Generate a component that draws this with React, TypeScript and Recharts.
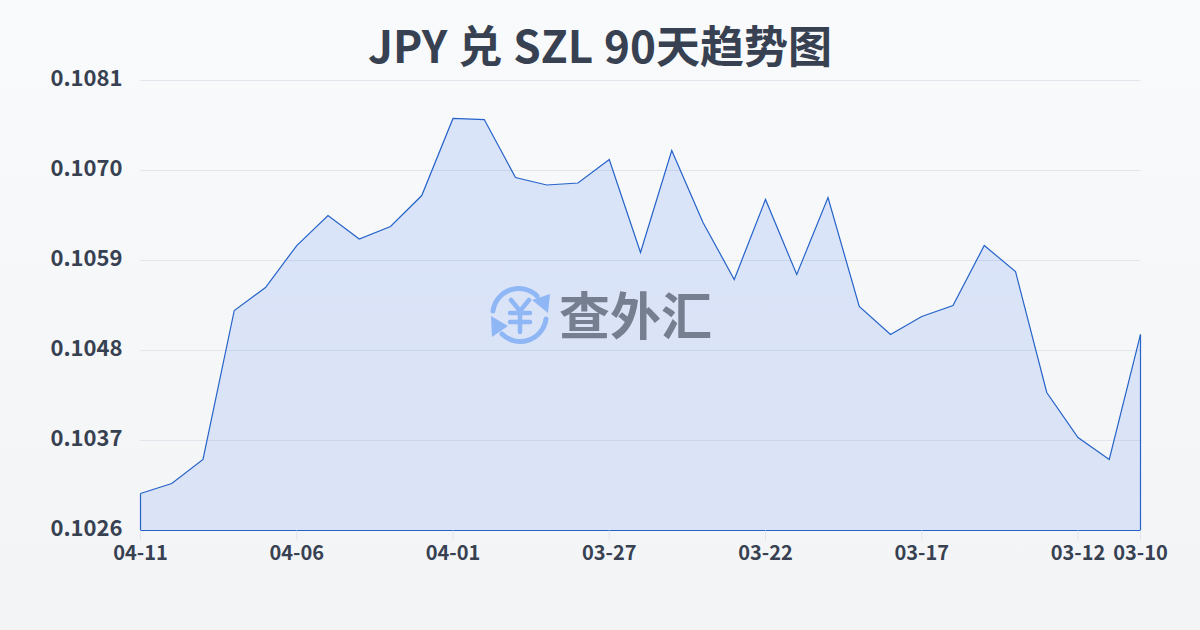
import { Area, AreaChart, CartesianGrid, ReferenceLine, XAxis, YAxis } from 'recharts'

const dates = [
  '04-11', '04-10', '04-09', '04-08', '04-07', '04-06', '04-05', '04-04', '04-03', '04-02', '04-01',
  '03-31', '03-30', '03-29', '03-28', '03-27', '03-26', '03-25', '03-24', '03-23', '03-22', '03-21',
  '03-20', '03-19', '03-18', '03-17', '03-16', '03-15', '03-14', '03-13', '03-12', '03-11', '03-10',
]

const rates = [
  0.103052, 0.103174, 0.103468, 0.105289, 0.10557, 0.106083, 0.10645, 0.106163, 0.106316, 0.106694, 0.107636,
  0.107623, 0.106914, 0.106823, 0.106847, 0.107134, 0.105998, 0.107244, 0.106364, 0.105668, 0.106646, 0.105729,
  0.10667, 0.105338, 0.104996, 0.105216, 0.10535, 0.106083, 0.105766, 0.104287, 0.103737, 0.103468, 0.104996,
]

const xTicks = ['04-11', '04-06', '04-01', '03-27', '03-22', '03-17', '03-12', '03-10']
const yTicks = [0.1026, 0.1037, 0.1048, 0.1059, 0.107, 0.1081]

const chartData = dates.map((date, i) => ({ date, rate: rates[i] }))

const LINE = '#2563c9'
const TEXT = '#374151'
const FONT = '"Noto Sans CJK SC", sans-serif'

const Watermark = () => (
  <div style={{ position: 'absolute', left: 488, top: 284, width: 230, height: 62 }}>
    <svg width={64} height={62} viewBox="0 0 64 62" style={{ position: 'absolute', left: 0, top: 0 }}>
      <g fill="none" stroke="#8fb6f5" strokeWidth={5} strokeLinecap="round">
        <path d="M5 27 A26 26 0 0 1 49 12" />
        <path d="M58 35 A26 26 0 0 1 14 50" />
        <path d="M23 16 L32 27 L41 16 M22 29 H42 M22 38 H42 M32 27 V48" strokeWidth={4.5} />
      </g>
      <path d="M44 16 L62 10 L60 29 Z" fill="#8fb6f5" />
      <path d="M3 32 L20 42 L4 53 Z" fill="#8fb6f5" />
    </svg>
    <div
      style={{
        position: 'absolute',
        left: 71,
        top: -2,
        fontFamily: FONT,
        fontWeight: 700,
        fontSize: 51,
        lineHeight: '62px',
        color: '#767f90',
        whiteSpace: 'nowrap',
      }}
    >
      查外汇
    </div>
  </div>
)

export default function App() {
  return (
    <div
      style={{
        position: 'fixed',
        left: 0,
        top: 0,
        width: 1200,
        height: 630,
        overflow: 'hidden',
        background: 'linear-gradient(180deg, #f8fafc 0%, #f3f4f6 100%)',
        fontFamily: FONT,
      }}
    >
      <div
        style={{
          position: 'absolute',
          left: 0,
          top: 12,
          width: 1200,
          textAlign: 'center',
          fontFamily: FONT,
          fontWeight: 700,
          fontSize: 44,
          wordSpacing: 1,
          lineHeight: '64px',
          color: '#374151',
        }}
      >
        JPY 兑 SZL 90天趋势图
      </div>
      <div style={{ position: 'absolute', left: 0, top: 0 }}>
        <AreaChart
          width={1200}
          height={630}
          data={chartData}
          margin={{ top: 80.5, right: 59.5, bottom: 69.5, left: 0.5 }}
        >
          <defs>
            <linearGradient id="rateFill" x1="0" y1="0" x2="0" y2="1">
              <stop offset="0%" stopColor="#2563eb" stopOpacity={0.14} />
              <stop offset="100%" stopColor="#2563eb" stopOpacity={0.12} />
            </linearGradient>
          </defs>
          <CartesianGrid vertical={false} stroke="#e2e5ec" strokeWidth={1} />
          <XAxis
            dataKey="date"
            ticks={xTicks}
            interval={0}
            height={30}
            axisLine={false}
            tickSize={10}
            tickLine={{ stroke: '#e2e5ec' }}
            tickMargin={5}
            tick={{ fill: TEXT, fontSize: 20, fontWeight: 700, fontFamily: FONT }}
          />
          <YAxis
            width={140}
            domain={[0.1026, 0.1081]}
            ticks={yTicks}
            interval={0}
            axisLine={false}
            tickLine={false}
            tickMargin={12}
            tickFormatter={(v: number) => v.toFixed(4)}
            tick={{ fill: TEXT, fontSize: 22, fontWeight: 700, fontFamily: FONT, dy: -2 }}
          />
          <Area
            type="linear"
            dataKey="rate"
            baseValue={0.1026}
            stroke={LINE}
            strokeWidth={1.2}
            fill="url(#rateFill)"
            fillOpacity={1}
            dot={false}
            activeDot={false}
            isAnimationActive={false}
          />
          <ReferenceLine
            segment={[{ x: dates[0], y: 0.1026 }, { x: dates[dates.length - 1], y: 0.1026 }]}
            stroke={LINE}
            strokeWidth={1.2}
          />
          <ReferenceLine
            segment={[{ x: dates[0], y: 0.1026 }, { x: dates[0], y: rates[0] }]}
            stroke={LINE}
            strokeWidth={1.2}
          />
          <ReferenceLine
            segment={[
              { x: dates[dates.length - 1], y: 0.1026 },
              { x: dates[dates.length - 1], y: rates[rates.length - 1] },
            ]}
            stroke={LINE}
            strokeWidth={1.2}
          />
        </AreaChart>
      </div>
      <Watermark />
    </div>
  )
}
